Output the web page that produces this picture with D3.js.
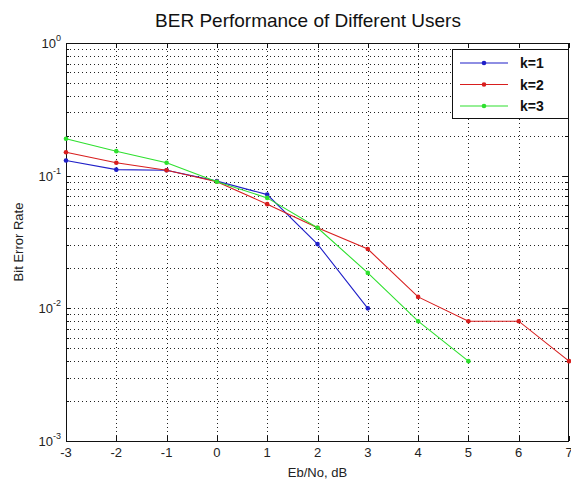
<!DOCTYPE html>
<html>
<head>
<meta charset="utf-8">
<script src="https://cdn.jsdelivr.net/npm/d3@7"></script>
<style>
  body { margin: 0; background: #fff; }
  text { font-family: "Liberation Sans", Arial, sans-serif; }
</style>
</head>
<body>
<div class="content"></div>
<script>
const SVGWIDTH = 571;
const SVGHEIGHT = 482;
const MARGIN = {left: 66, right: 2, top: 43, bottom: 41};

// data
const ebno = [-3, -2, -1, 0, 1, 2, 3, 4, 5, 6, 7];
const ber_k1 = [0.130, 0.111, 0.110, 0.091, 0.072, 0.0305, 0.0100];
const ber_k2 = [0.150, 0.125, 0.110, 0.090, 0.061, 0.0405, 0.0280, 0.0122, 0.0080, 0.0080, 0.0040];
const ber_k3 = [0.190, 0.153, 0.125, 0.090, 0.068, 0.0405, 0.0185, 0.0080, 0.0040];
const series_names = ["k=1", "k=2", "k=3"];
const series_colors = ["#1f1fc8", "#d81e1e", "#2ee02e"];
const xticks = [-3, -2, -1, 0, 1, 2, 3, 4, 5, 6, 7];
const ydecades = [-3, -2, -1, 0];

let svg = d3.select(".content").append("svg").attr("width", SVGWIDTH).attr("height", SVGHEIGHT);

let x = d3.scaleLinear().domain([-3, 7]).range([MARGIN.left, SVGWIDTH - MARGIN.right]);
let y = d3.scaleLog().domain([1e-3, 1]).range([SVGHEIGHT - MARGIN.bottom, MARGIN.top]);

let x0 = x.range()[0], x1 = x.range()[1];
let y0 = y.range()[0], y1 = y.range()[1];

// minor ticks 2..9 in every decade
let yminor = [];
for (let d = -3; d < 0; d++) {
    for (let m = 2; m <= 9; m++) yminor.push(m * Math.pow(10, d));
}
let ymajor = ydecades.map(d => Math.pow(10, d));

// dotted grid
let grid = svg.append("g").attr("class", "grid")
    .attr("stroke", "#222").attr("stroke-width", 1).attr("stroke-dasharray", "1,3");
grid.selectAll("line.gx")
    .data(xticks.slice(1, -1))
    .join("line")
    .attr("class", "gx")
    .attr("x1", d => Math.round(x(d)) + 0.5).attr("x2", d => Math.round(x(d)) + 0.5)
    .attr("y1", y1).attr("y2", y0);
grid.selectAll("line.gy")
    .data(yminor.concat(ymajor.slice(1, -1)))
    .join("line")
    .attr("class", "gy")
    .attr("x1", x0).attr("x2", x1)
    .attr("y1", d => Math.round(y(d)) + 0.5).attr("y2", d => Math.round(y(d)) + 0.5);

// axes frame and ticks (inward, as in matlab)
let axes = svg.append("g").attr("stroke", "#111").attr("stroke-width", 1);
axes.append("rect")
    .attr("x", Math.round(x0) + 0.5).attr("y", Math.round(y1) + 0.5)
    .attr("width", Math.round(x1 - x0) - 1).attr("height", Math.round(y0 - y1))
    .attr("fill", "none");

xticks.forEach(t => {
    let px = Math.round(x(t)) + 0.5;
    axes.append("line").attr("x1", px).attr("x2", px).attr("y1", y0).attr("y2", y0 - 5);
    axes.append("line").attr("x1", px).attr("x2", px).attr("y1", y1).attr("y2", y1 + 5);
});
ymajor.forEach(t => {
    let py = Math.round(y(t)) + 0.5;
    axes.append("line").attr("x1", x0).attr("x2", x0 + 5).attr("y1", py).attr("y2", py);
    axes.append("line").attr("x1", x1 - 1).attr("x2", x1 - 6).attr("y1", py).attr("y2", py);
});
yminor.forEach(t => {
    let py = Math.round(y(t)) + 0.5;
    axes.append("line").attr("x1", x0).attr("x2", x0 + 3).attr("y1", py).attr("y2", py);
    axes.append("line").attr("x1", x1 - 1).attr("x2", x1 - 4).attr("y1", py).attr("y2", py);
});

// x tick labels
svg.append("g").selectAll("text")
    .data(xticks)
    .join("text")
    .attr("x", d => x(d))
    .attr("y", y0 + 16)
    .attr("text-anchor", "middle")
    .attr("font-size", 13)
    .attr("fill", "#222")
    .text(d => d);

// y tick labels 10^n
let ylab = svg.append("g").selectAll("text")
    .data(ydecades)
    .join("text")
    .attr("x", x0 - 5)
    .attr("y", d => y(Math.pow(10, d)) + 5)
    .attr("text-anchor", "end")
    .attr("font-size", 13)
    .attr("fill", "#222");
ylab.append("tspan").text("10");
ylab.append("tspan").attr("dy", -7).attr("font-size", 9).text(d => d);

// lines
let line = d3.line().x((d, i) => x(ebno[i])).y(d => y(d));
let allseries = [ber_k1, ber_k2, ber_k3];
allseries.forEach((s, k) => {
    svg.append("path")
        .datum(s)
        .attr("d", line)
        .attr("fill", "none")
        .attr("stroke", series_colors[k])
        .attr("stroke-width", 1.1);
    svg.append("g").selectAll("circle")
        .data(s)
        .join("circle")
        .attr("cx", (d, i) => x(ebno[i]))
        .attr("cy", d => y(d))
        .attr("r", 2.3)
        .attr("fill", series_colors[k]);
});

// title and axis labels
svg.append("text")
    .attr("x", 308).attr("y", 27)
    .attr("text-anchor", "middle")
    .attr("font-family", "Lato, 'Open Sans', sans-serif")
    .attr("font-size", 19)
    .attr("fill", "#111")
    .text("BER Performance of Different Users");
svg.append("text")
    .attr("x", (x0 + x1) / 2).attr("y", 477)
    .attr("text-anchor", "middle")
    .attr("font-size", 13)
    .attr("fill", "#222")
    .text("Eb/No, dB");
svg.append("text")
    .attr("transform", "translate(23," + ((y0 + y1) / 2) + ") rotate(-90)")
    .attr("text-anchor", "middle")
    .attr("font-size", 13)
    .attr("fill", "#222")
    .text("Bit Error Rate");

// legend
let legend = svg.append("g").attr("class", "legend");
legend.append("rect")
    .attr("x", 452.5).attr("y", 49.5).attr("width", 116).attr("height", 69)
    .attr("fill", "#fff").attr("stroke", "#111");
let rows = legend.selectAll("g.row")
    .data(series_names)
    .join("g")
    .attr("class", "row")
    .attr("transform", (d, i) => "translate(0," + (63 + i * 21.5) + ")");
rows.append("line")
    .attr("x1", 460).attr("x2", 508).attr("y1", 0).attr("y2", 0)
    .attr("stroke", (d, i) => series_colors[i]).attr("stroke-width", 1.1);
rows.append("circle")
    .attr("cx", 484).attr("cy", 0).attr("r", 2.3)
    .attr("fill", (d, i) => series_colors[i]);
rows.append("text")
    .attr("x", 520).attr("y", 5)
    .attr("font-size", 14).attr("font-weight", "bold")
    .attr("fill", "#111")
    .text(d => d);
</script>
</body>
</html>
